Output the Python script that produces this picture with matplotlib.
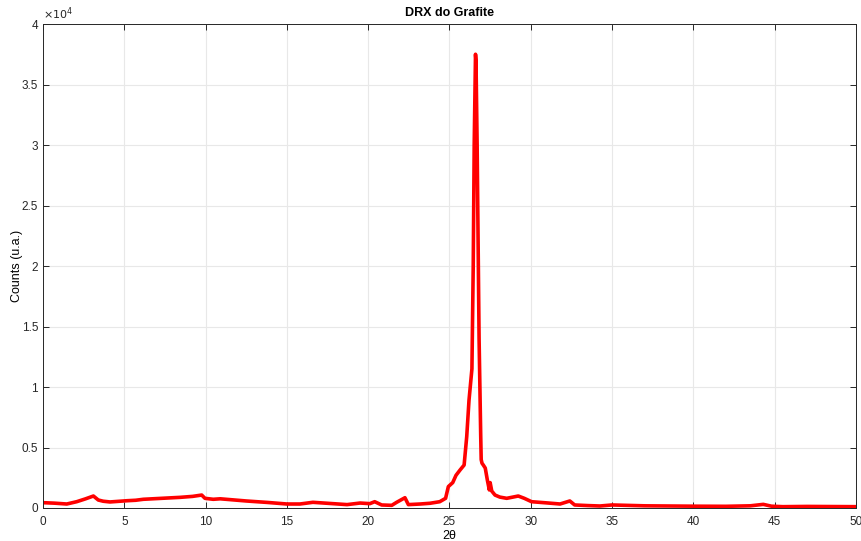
import numpy as np
import matplotlib.pyplot as plt
plt.rcParams['font.family'] = ['Liberation Sans', 'DejaVu Sans']

two_theta = [0.0, 0.7, 1.46, 2.07, 2.6, 3.1, 3.4, 3.7, 4.12, 5.15, 5.7, 6.17, 7.3, 8.43, 9.2, 9.76, 9.96,
             10.47, 10.9, 11.7, 12.5, 13.8, 15.0, 15.8, 16.6, 17.6, 18.7, 19.5, 20.1, 20.4, 20.83,
             21.45, 21.75, 22.26, 22.47, 23.2, 23.8, 24.4, 24.76, 24.93, 25.2, 25.4, 25.65, 25.9,
             26.06, 26.2, 26.38, 26.46, 26.52, 26.6, 26.63, 26.7, 26.76, 26.82, 26.87, 26.92,
             26.95, 27.0, 27.08, 27.2, 27.33, 27.45, 27.5, 27.6, 27.8, 28.1, 28.52, 29.23, 29.6,
             30.05, 31.0, 31.8, 32.4, 32.7, 33.5, 34.25, 35.0, 37.0, 40.0, 42.0, 43.5, 44.3, 44.8,
             45.5, 47.0, 50.0]
counts = [440, 400, 330, 520, 750, 990, 660, 560, 500, 600, 640, 720, 800, 880, 960, 1070, 800,
          720, 760, 670, 580, 460, 330, 330, 470, 380, 280, 410, 360, 520, 250,
          220, 470, 850, 280, 330, 390, 520, 800, 1770, 2100, 2700, 3140, 3550,
          5900, 8900, 11500, 20000, 30000, 37500, 37000, 30000, 22000, 14000, 10000, 6000,
          4000, 3700, 3550, 3300, 2300, 1490, 2100, 1400, 1070, 900, 800, 990, 800,
          520, 420, 330, 580, 250, 200, 165, 250, 180, 150, 140, 180, 300, 150,
          110, 130, 110]

fig = plt.figure(figsize=(8.62, 5.41), dpi=100)
ax = fig.add_axes([0.0499, 0.061, 0.9431, 0.8946])

ax.plot(two_theta, counts, color='#ff0000', linewidth=2.6)

ax.set_xlim(0, 50)
ax.set_ylim(0, 40000)
ax.set_xticks(np.arange(0, 51, 5))
ax.set_yticks(np.arange(0, 40001, 5000))
ax.set_yticklabels(['0', '0.5', '1', '1.5', '2', '2.5', '3', '3.5', '4'])
ax.text(0.0, 1.004, r'$\times10^{4}$', transform=ax.transAxes, fontsize=8, color='#262626',
        ha='left', va='bottom')

ax.grid(True, color='#e8e8e8', linewidth=0.8)
ax.set_axisbelow(True)
ax.tick_params(direction='in', top=True, right=True, length=4, labelsize=8.5,
               colors='#262626', width=0.7)
ax.tick_params(axis='x', pad=6)
for s in ax.spines.values():
    s.set_color('#262626')
    s.set_linewidth(0.7)

ax.set_title('DRX do Grafite', fontsize=9, fontweight='bold', pad=6)
ax.set_xlabel('2θ', fontsize=9, labelpad=1)
ax.set_ylabel('Counts (u.a.)', fontsize=9, labelpad=-1)

fig.savefig('out.png', dpi=100)
